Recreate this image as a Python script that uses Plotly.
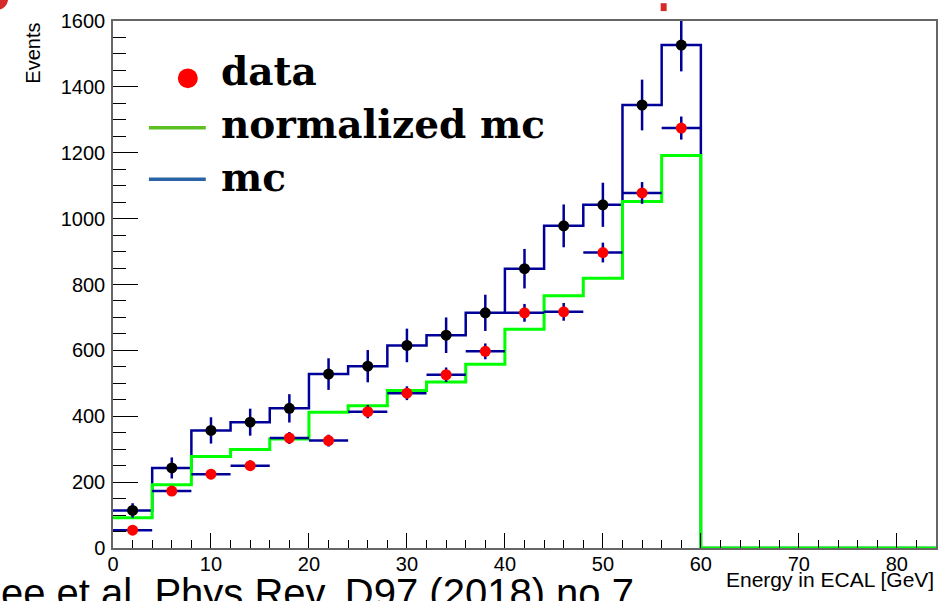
import plotly.graph_objects as go

# ---------------- data ----------------
bin_edges = [0, 4, 8, 12, 16, 20, 24, 28, 32, 36, 40, 44, 48, 52, 56, 60]
bin_centers = [2, 6, 10, 14, 18, 22, 26, 30, 34, 38, 42, 46, 50, 54, 58]
mc_counts = [114, 243, 357, 382, 424, 528, 552, 615, 646, 714, 848, 978, 1042, 1345, 1527]
mc_errors = [22, 32, 40, 41, 43, 48, 49, 51, 54, 55, 60, 65, 67, 77, 80]
data_counts = [54, 173, 224, 250, 334, 326, 414, 470, 526, 597, 714, 717, 897, 1078, 1275]
data_errors = [7, 13, 15, 16, 18, 18, 20, 21, 22, 24, 27, 27, 30, 33, 35]
norm_mc_counts = [92, 192, 278, 299, 331, 412, 432, 478, 504, 558, 664, 766, 819, 1052, 1192]
x_axis_max = 84
y_axis_max = 1600
x_title = "Energy in ECAL [GeV]"
y_title = "Events"
legend_labels = ["data", "normalized mc", "mc"]
citation = "ee et al. Phys Rev. D97 (2018) no.7"

# ---------------- geometry ----------------
W, H = 948, 601
L, R, T, B = 113, 10, 15, 53
PW, PH = W - L - R, H - T - B


def px(x):
    return (x - L) / PW


def py(y):
    return (H - B - y) / PH


HIST_BLUE = "#000099"
HIST_GREEN = "#00ff00"

half_widths = [(bin_edges[i + 1] - bin_edges[i]) / 2 for i in range(len(bin_centers))]
step_x = bin_edges[:-1] + [bin_edges[-1], x_axis_max]

fig = go.Figure()

# mc histogram outline
fig.add_trace(go.Scatter(
    x=step_x, y=mc_counts + [0, 0], mode="lines", line_shape="hv",
    line=dict(color=HIST_BLUE, width=2.5), showlegend=False, hoverinfo="skip"))

# normalized mc histogram outline
fig.add_trace(go.Scatter(
    x=step_x, y=norm_mc_counts + [0, 0], mode="lines", line_shape="hv",
    line=dict(color=HIST_GREEN, width=3), showlegend=False, hoverinfo="skip"))

# data points
fig.add_trace(go.Scatter(
    x=bin_centers, y=data_counts, mode="markers",
    marker=dict(color="#ff0000", size=11),
    error_x=dict(type="data", array=half_widths, color=HIST_BLUE, thickness=2.5, width=0),
    error_y=dict(type="data", array=data_errors, color=HIST_BLUE, thickness=2.5, width=0),
    showlegend=False))

# mc points
fig.add_trace(go.Scatter(
    x=bin_centers, y=mc_counts, mode="markers",
    marker=dict(color="#000000", size=11),
    error_y=dict(type="data", array=mc_errors, color=HIST_BLUE, thickness=2.5, width=0),
    showlegend=False))

tickfont = dict(family="Liberation Sans", size=20, color="#000000")

fig.update_layout(
    width=W, height=H,
    margin=dict(l=L, r=R, t=T, b=B, pad=0),
    paper_bgcolor="white", plot_bgcolor="white",
    showlegend=False,
    xaxis=dict(
        range=[0, x_axis_max], showgrid=False, zeroline=False,
        showline=True, mirror=True, linecolor="#666666", linewidth=1.5,
        ticks="inside", ticklen=15, tickwidth=1, tickcolor="#000000",
        tick0=0, dtick=10, tickfont=tickfont, ticklabelstandoff=-3,
        minor=dict(dtick=2, ticks="inside", ticklen=8, tickwidth=1, tickcolor="#000000"),
    ),
    yaxis=dict(
        range=[0, y_axis_max], showgrid=False, zeroline=False,
        showline=True, mirror=True, linecolor="#666666", linewidth=1.5,
        ticks="inside", ticklen=25, tickwidth=1, tickcolor="#000000",
        tick0=0, dtick=200, tickfont=tickfont, ticklabelstandoff=2,
        minor=dict(dtick=50, ticks="inside", ticklen=13, tickwidth=1, tickcolor="#000000"),
    ),
)

annotations = []
# axis titles (ROOT style)
annotations.append(dict(text=y_title, xref="paper", yref="paper", x=px(32), y=1,
                        xanchor="center", yanchor="top", textangle=-90, showarrow=False,
                        font=dict(family="Liberation Sans", size=20, color="#000000")))
annotations.append(dict(text=x_title, xref="paper", yref="paper", x=1, y=py(580),
                        xanchor="right", yanchor="middle", showarrow=False,
                        font=dict(family="Liberation Sans", size=21, color="#000000")))
# citation text cut by the bottom edge
annotations.append(dict(text=citation, xref="paper", yref="paper", x=px(-1), y=py(594),
                        xanchor="left", yanchor="middle", showarrow=False,
                        font=dict(family="Liberation Sans", size=40, color="#000000")))
# legend labels
legend_rows_y = [66, 119, 173]
for lab, yy in zip(legend_labels, legend_rows_y):
    annotations.append(dict(text="<b>" + lab + "</b>", xref="paper", yref="paper", x=px(219), y=py(yy),
                            xanchor="left", yanchor="middle", showarrow=False,
                            font=dict(family="DejaVu Serif", size=39, color="#000000")))
fig.update_layout(annotations=annotations)

shapes = []
# legend symbols
shapes.append(dict(type="circle", xref="paper", yref="paper",
                   x0=px(178), x1=px(198), y0=py(83), y1=py(63),
                   fillcolor="#ff0000", line=dict(width=0)))
shapes.append(dict(type="line", xref="paper", yref="paper",
                   x0=px(149), x1=px(206), y0=py(123), y1=py(123),
                   line=dict(color="#5cbf24", width=3.5)))
shapes.append(dict(type="line", xref="paper", yref="paper",
                   x0=px(149), x1=px(206), y0=py(175), y1=py(175),
                   line=dict(color="#2a62a6", width=3.5)))
# fragments of the red slide title above the page
shapes.append(dict(type="circle", xref="paper", yref="paper",
                   x0=px(-16), x1=px(8), y0=py(4), y1=py(-20),
                   fillcolor="#d42a2a", line=dict(width=0)))
shapes.append(dict(type="rect", xref="paper", yref="paper",
                   x0=px(662), x1=px(668), y0=py(5), y1=py(-3),
                   fillcolor="#d42a2a", line=dict(width=0)))
fig.update_layout(shapes=shapes)

fig.write_html("out.html")
